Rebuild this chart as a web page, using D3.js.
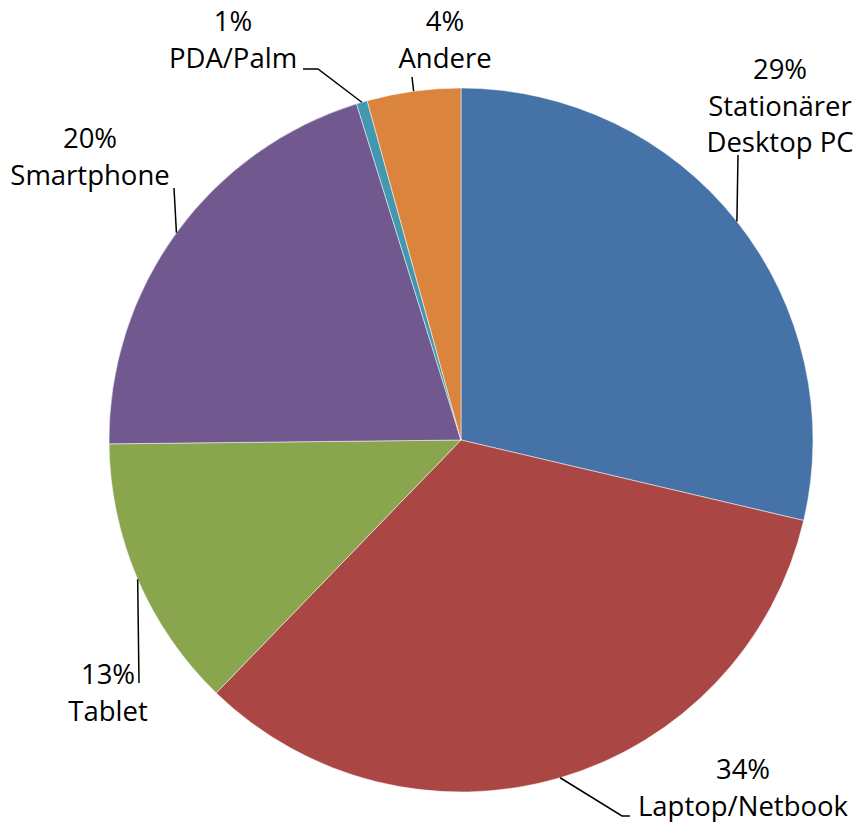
<!doctype html>
<html>
<head>
    <meta charset="UTF-8">
    <title>Geräte</title>
    <style>
        body { margin: 0; background: #fff; }
        #pie { font-family: "Open Sans", Lato, "Liberation Sans", sans-serif; font-size: 27.5px; }
        .leader { stroke: #000; stroke-width: 1.5; fill: none; }
    </style>
</head>
<body>
<svg id="pie" width="854" height="822"></svg>
<script src="https://cdn.jsdelivr.net/npm/d3@7"></script>
<script>
// Daten, im Uhrzeigersinn ab 12 Uhr
var categories = ["Stationärer Desktop PC", "Laptop/Netbook", "Tablet", "Smartphone", "PDA/Palm", "Andere"];
var values = [28.7, 33.6, 12.6, 20.4, 0.5, 4.3];
var percentLabels = ["29%", "34%", "13%", "20%", "1%", "4%"];
var labelLines = [["Stationärer", "Desktop PC"], ["Laptop/Netbook"], ["Tablet"], ["Smartphone"], ["PDA/Palm"], ["Andere"]];
var colors = ["#4572A7", "#AA4643", "#89A54E", "#71588F", "#4198AF", "#DB843D"];

// Lage der Beschriftungen (Mitte x, erste Grundlinie y) und Ende der Führungslinien
var layout = [
    {x: 780, y: 79, end: [[738, 155]]},
    {x: 743, y: 779, end: [[622, 816], [630, 816]]},
    {x: 108, y: 684, end: [[139, 683]]},
    {x: 90, y: 148, end: [[174, 188]]},
    {x: 233, y: 31, end: [[318, 69], [303, 69]]},
    {x: 445, y: 31, end: [[412, 77]]}
];

var svg = d3.select("#pie"),
    cx = 461, cy = 440, r = 352,
    lineH = 36.5;

var pie = d3.pie().sort(null).value(function(d) { return d; });
var arcs = pie(values);
var arc = d3.arc().innerRadius(0).outerRadius(r);

var g = svg.append("g").attr("transform", "translate(" + cx + "," + cy + ")");

g.selectAll("path")
    .data(arcs)
    .enter()
    .append("path")
    .attr("d", arc)
    .attr("fill", function(d, i) { return colors[i]; })
    .attr("stroke", "#fff")
    .attr("stroke-width", 0.5);

// Führungslinien vom Rand (mittlerer Winkel) zur Beschriftung
arcs.forEach(function(d, i) {
    var a = (d.startAngle + d.endAngle) / 2;
    var pts = [[cx + r * Math.sin(a), cy - r * Math.cos(a)]].concat(layout[i].end);
    svg.append("path")
        .attr("class", "leader")
        .attr("d", d3.line()(pts));
});

// Beschriftungen
arcs.forEach(function(d, i) {
    var t = svg.append("text")
        .attr("text-anchor", "middle")
        .attr("fill", "#000");
    var lines = [percentLabels[i]].concat(labelLines[i]);
    lines.forEach(function(s, k) {
        t.append("tspan")
            .attr("x", layout[i].x)
            .attr("y", layout[i].y + k * lineH)
            .text(s);
    });
});
</script>
</body>
</html>
